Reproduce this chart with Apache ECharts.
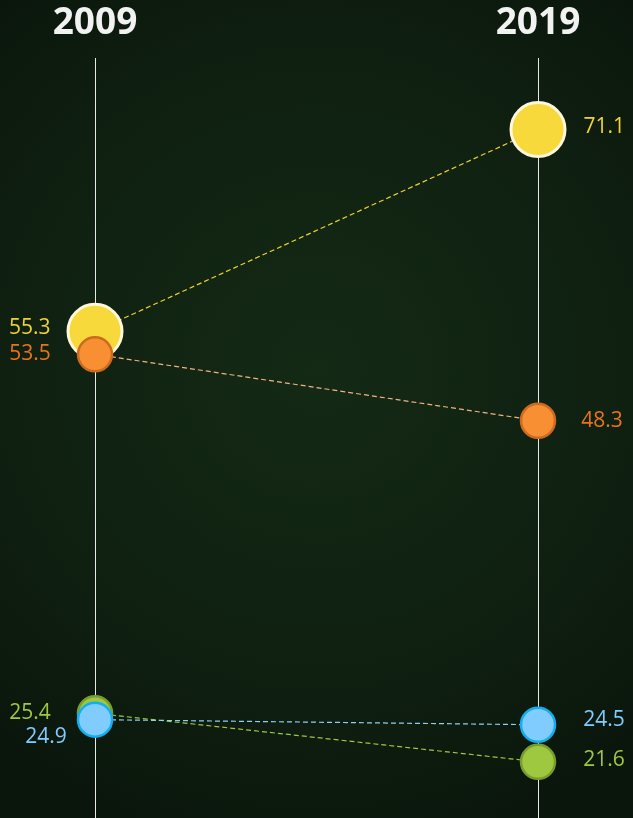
<!DOCTYPE html>
<html>
<head>
<meta charset="utf-8">
<script src="https://cdn.jsdelivr.net/npm/echarts@6/dist/echarts.min.js"></script>
<style>
html,body{margin:0;padding:0;background:#0e1c10;}
#c{width:633px;height:818px;}
</style>
</head>
<body>
<div id="c"></div>
<script>
var years = ['2009', '2019'];
var seriesNames = ['Yellow', 'Orange', 'Green', 'Blue'];
var yellowValues = [55.3, 71.1];
var orangeValues = [53.5, 48.3];
var greenValues = [25.4, 21.6];
var blueValues = [24.9, 24.5];

var chart = echarts.init(document.getElementById('c'), null, {renderer: 'canvas'});

var fontFam = '"Open Sans", "Noto Sans", sans-serif';

function mkSeries(name, vals, opt) {
  return {
    name: name,
    type: 'line',
    data: vals.map(function (v, i) {
      return {
        value: v,
        symbolSize: opt.size,
        label: {
          show: true,
          position: i === 0 ? 'left' : 'right',
          distance: opt.dist[i],
          offset: opt.off[i],
          color: opt.labelColor,
          fontSize: 21,
          fontFamily: fontFam,
          formatter: function (p) { return p.value.toFixed(1); }
        }
      };
    }),
    symbol: 'circle',
    showAllSymbol: true,
    lineStyle: {color: opt.lineColor, width: 1.2, type: [5, 3]},
    itemStyle: {color: opt.fill, borderColor: opt.border, borderWidth: opt.bw, opacity: 1},
    emphasis: {disabled: true},
    z: opt.z
  };
}

var option = {
  animation: false,
  backgroundColor: {
    type: 'radial', x: 0.5, y: 0.45, r: 0.8,
    colorStops: [
      {offset: 0, color: '#142a15'},
      {offset: 0.6, color: '#0f2011'},
      {offset: 1, color: '#0a150b'}
    ]
  },
  grid: {left: 95, right: 95, top: 58, bottom: 0},
  xAxis: {
    type: 'category',
    data: years,
    boundaryGap: false,
    position: 'top',
    axisLine: {show: false},
    axisTick: {show: false},
    axisLabel: {color: '#f2f2f2', fontSize: 37, fontWeight: 'bold', fontFamily: fontFam, margin: 16},
    splitLine: {show: true, lineStyle: {color: '#e8e8e8', width: 1}}
  },
  yAxis: {
    type: 'value',
    min: 17.2,
    max: 76.7,
    show: false,
    splitLine: {show: false}
  },
  series: [
    mkSeries(seriesNames[0], yellowValues, {size: 54, fill: '#f8d93c', border: '#fff6dc', bw: 3, lineColor: '#f2d12e', labelColor: '#f0d236', dist: [16, 17], off: [[0, -3], [0, -3]], z: 2}),
    mkSeries(seriesNames[1], orangeValues, {size: 34, fill: '#f88f33', border: '#cc6a1f', bw: 2.5, lineColor: '#f4b283', labelColor: '#e8731c', dist: [26, 25], off: [[0, 0], [0, 0]], z: 3}),
    mkSeries(seriesNames[2], greenValues, {size: 34, fill: '#9dc83f', border: '#7a9c2c', bw: 2.5, lineColor: '#9dc83f', labelColor: '#9dc83f', dist: [26, 27], off: [[0, 0], [0, -2]], z: 4}),
    mkSeries(seriesNames[3], blueValues, {size: 34, fill: '#80ccff', border: '#12aeee', bw: 2.5, lineColor: '#8dcff5', labelColor: '#80ccff', dist: [10, 27], off: [[0, 17], [0, -5]], z: 5})
  ]
};
chart.setOption(option);
</script>
</body>
</html>
